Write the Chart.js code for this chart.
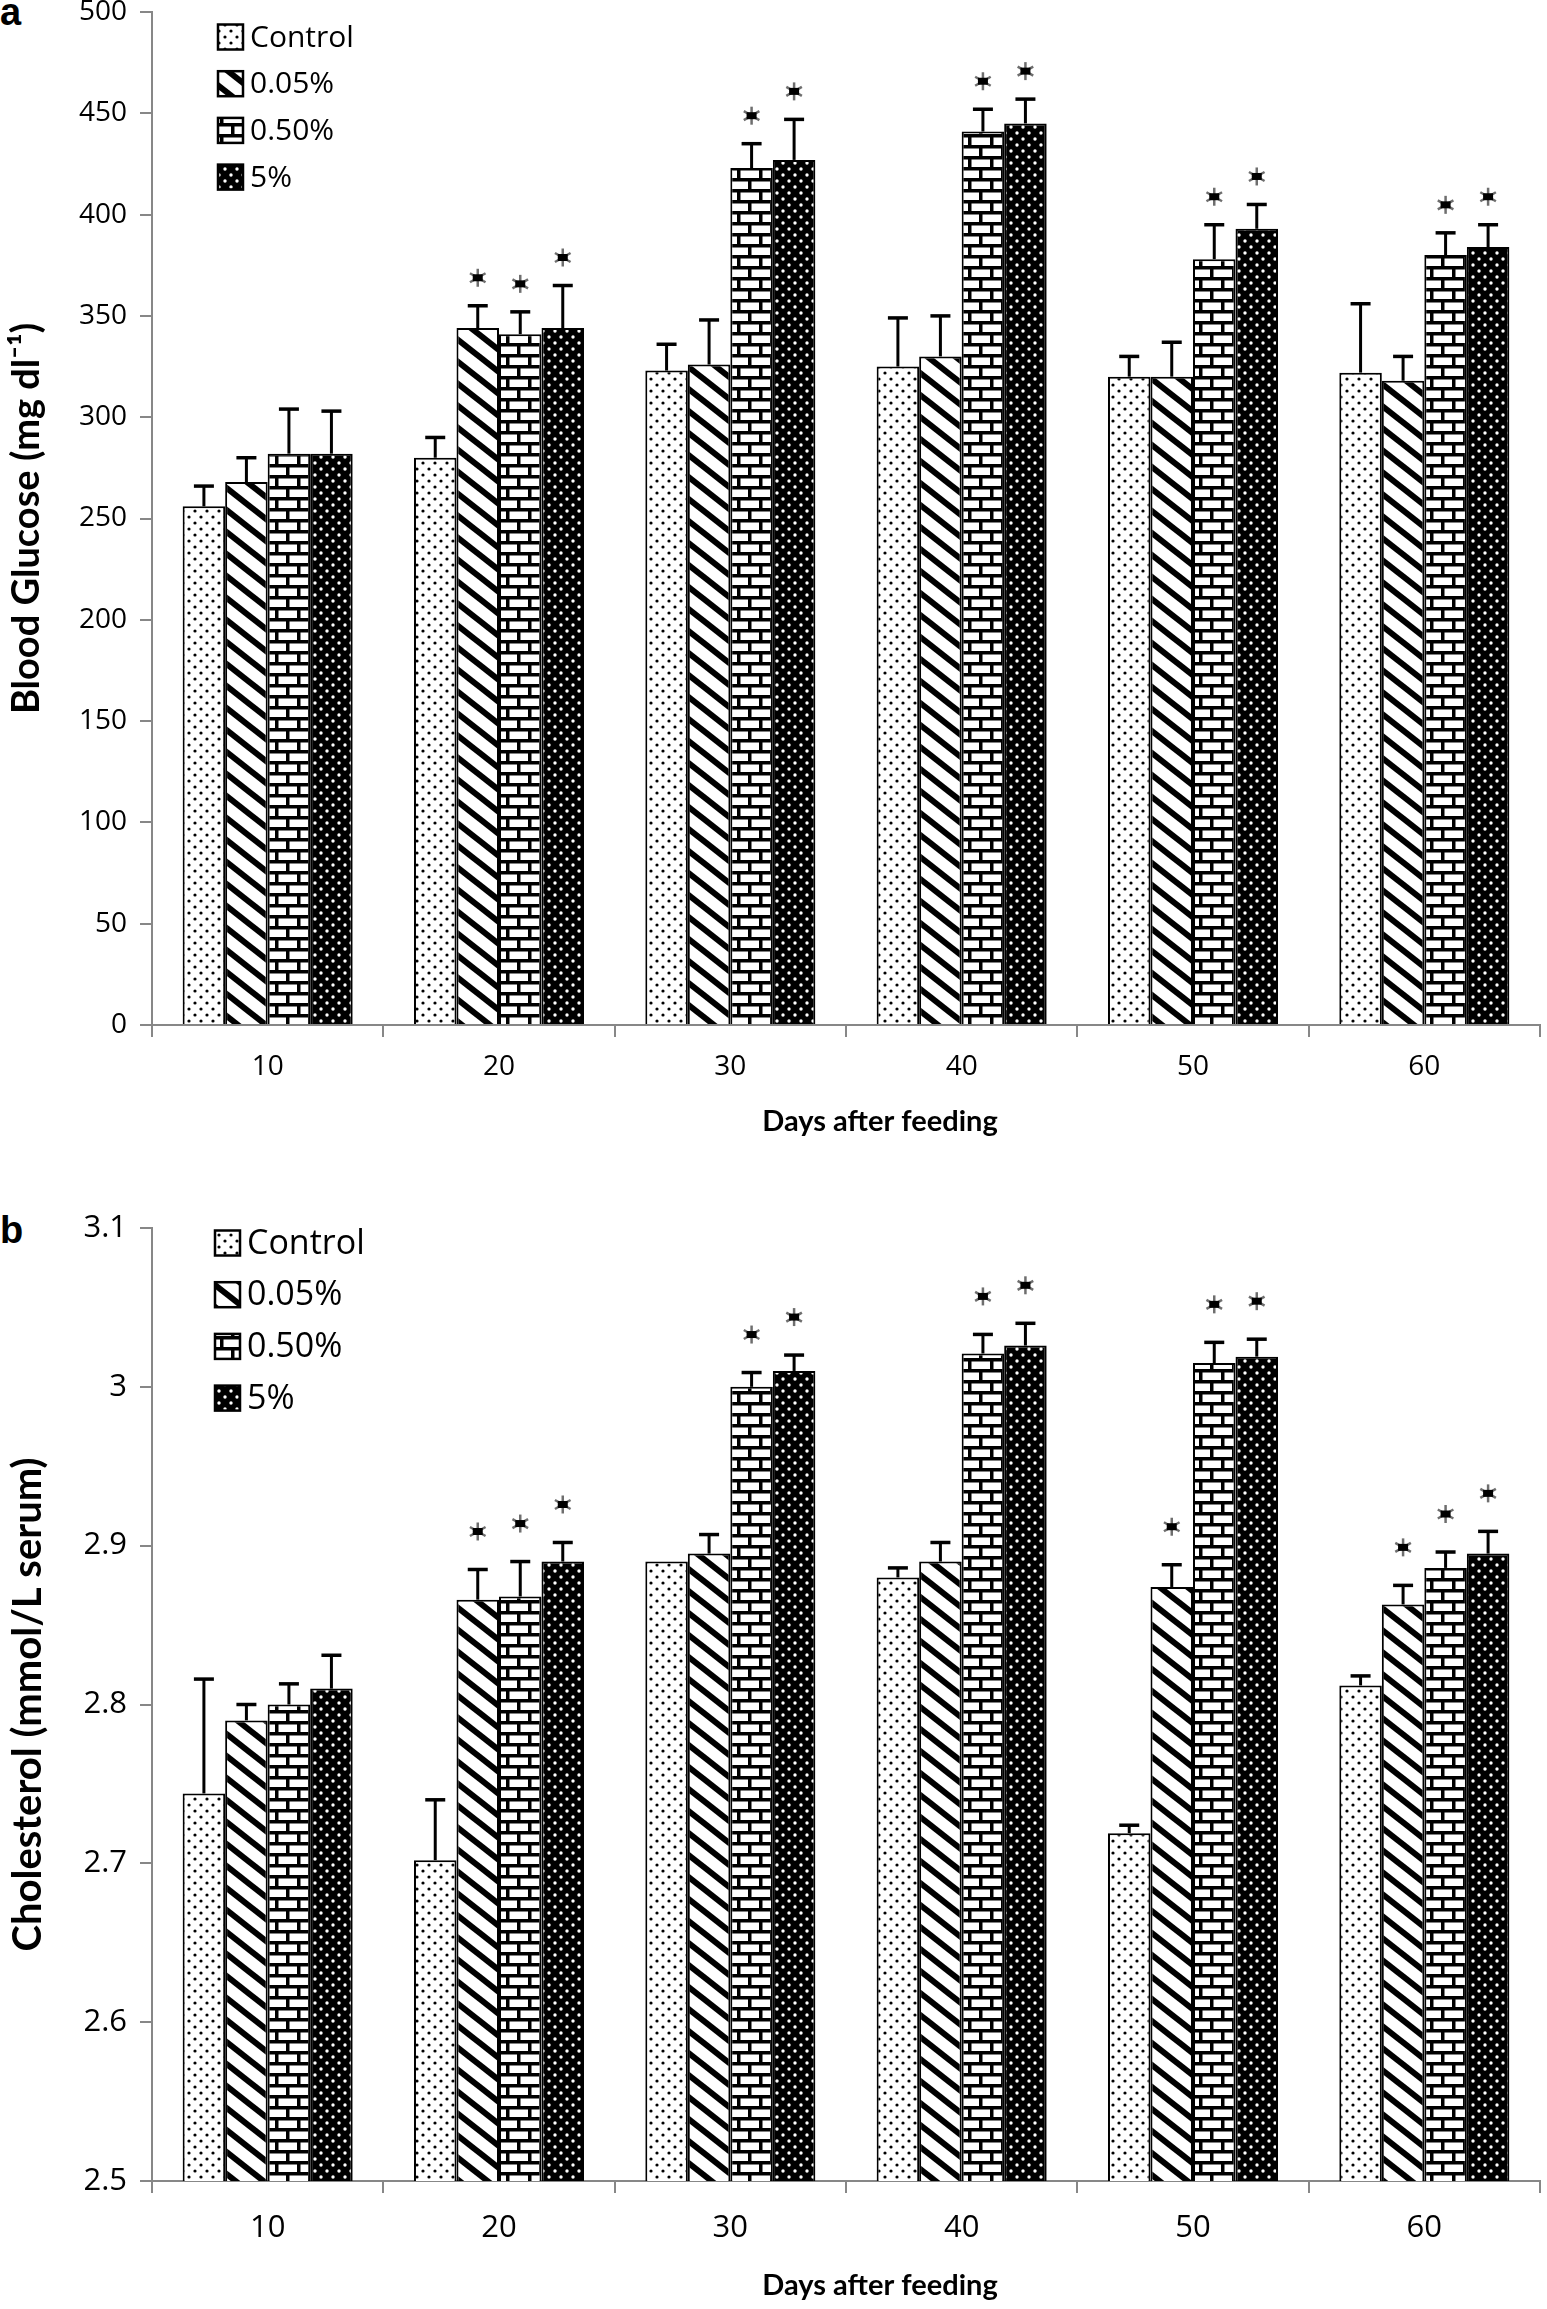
<!DOCTYPE html>
<html>
<head>
<meta charset="utf-8">
<script src="https://cdn.jsdelivr.net/npm/chart.js@4"></script>
<style>
  body { margin: 0; background: #fff; width: 1547px; height: 2309px; overflow: hidden; position: relative; }
  canvas { position: absolute; left: 0; }
  .panel { position: absolute; left: 0; font: bold 38px "Liberation Sans", Arial, sans-serif; line-height: 1; color: #000; }
</style>
</head>
<body>
<div class="panel" style="top:-7px">a</div>
<div class="panel" style="top:1211px">b</div>
<canvas id="glucoseChart" width="1547" height="1170" style="top:-20px"></canvas>
<canvas id="cholesterolChart" width="1547" height="1149" style="top:1160px"></canvas>
<script>
// categorias e séries
const days = ['10', '20', '30', '40', '50', '60'];
const seriesNames = ['Control', '0.05%', '0.50%', '5%'];
const xTitle = 'Days after feeding';

// glicose (mg dl-1)
const glucoseControl = [256, 280, 323, 325, 320, 322];
const glucose005 = [268, 344, 326, 330, 320, 318];
const glucose050 = [282, 341, 423, 441, 378, 380];
const glucose5 = [282, 344, 427, 445, 393, 384];
const glucoseErrControl = [10, 10, 13, 24, 10, 34];
const glucoseErr005 = [12, 11, 22, 20, 17, 12];
const glucoseErr050 = [22, 11, 12, 11, 17, 11];
const glucoseErr5 = [21, 21, 20, 12, 12, 11];
const glucoseSigControl = [0, 0, 0, 0, 0, 0];
const glucoseSig005 = [0, 1, 0, 0, 0, 0];
const glucoseSig050 = [0, 1, 1, 1, 1, 1];
const glucoseSig5 = [0, 1, 1, 1, 1, 1];
const glucoseTicks = { min: 0, max: 500, step: 50 };

// colesterol (mmol/L serum)
const cholControl = [2.744, 2.702, 2.890, 2.880, 2.719, 2.812];
const chol005 = [2.790, 2.866, 2.895, 2.890, 2.874, 2.863];
const chol050 = [2.800, 2.868, 3.000, 3.021, 3.015, 2.886];
const chol5 = [2.810, 2.890, 3.010, 3.026, 3.019, 2.895];
const cholErrControl = [0.072, 0.038, 0, 0.006, 0.005, 0.006];
const cholErr005 = [0.010, 0.019, 0.012, 0.012, 0.014, 0.012];
const cholErr050 = [0.013, 0.022, 0.009, 0.012, 0.013, 0.010];
const cholErr5 = [0.021, 0.012, 0.010, 0.014, 0.011, 0.014];
const cholSigControl = [0, 0, 0, 0, 0, 0];
const cholSig005 = [0, 1, 0, 0, 1, 1];
const cholSig050 = [0, 1, 1, 1, 1, 1];
const cholSig5 = [0, 1, 1, 1, 1, 1];
const cholTicks = { min: 2.5, max: 3.1, step: 0.1 };

// padrões de preenchimento (estilo Excel preto e branco)
function makeTile(w, h, draw) {
  const c = document.createElement('canvas');
  c.width = w; c.height = h;
  const g = c.getContext('2d');
  draw(g);
  return g.createPattern(c, 'repeat');
}

function dotPattern(bg, fg, r) {
  return makeTile(12, 12, (g) => {
    g.fillStyle = bg; g.fillRect(0, 0, 12, 12);
    g.fillStyle = fg;
    [[3, 3], [9, 9]].forEach(([x, y]) => {
      g.beginPath(); g.arc(x, y, r, 0, Math.PI * 2); g.fill();
    });
  });
}

function stripePattern() {
  return makeTile(28, 22, (g) => {
    g.fillStyle = '#fff'; g.fillRect(0, 0, 28, 22);
    g.strokeStyle = '#000'; g.lineWidth = 6;
    for (const dy of [-22, 0, 22]) {
      g.beginPath(); g.moveTo(-28, dy - 22); g.lineTo(56, dy + 44); g.stroke();
    }
  });
}

function brickPattern() {
  return makeTile(22, 22, (g) => {
    g.fillStyle = '#000'; g.fillRect(0, 0, 22, 22);
    g.fillStyle = '#fff';
    g.fillRect(3.5, 3.5, 18.5, 7.5);
    g.fillRect(0, 14.5, 11, 7.5);
    g.fillRect(14.5, 14.5, 7.5, 7.5);
  });
}

const fills = [
  dotPattern('#fff', '#000', 1.6),
  stripePattern(),
  brickPattern(),
  dotPattern('#000', '#fff', 1.7),
];

// barras de erro, asteriscos, legenda e título do eixo x
function drawStar(ctx, x, y) {
  ctx.save();
  ctx.strokeStyle = '#6e6e6e';
  ctx.lineWidth = 2.5;
  [90, 30, 150].forEach((a) => {
    const r = (a * Math.PI) / 180;
    ctx.beginPath();
    ctx.moveTo(x - Math.cos(r) * 9, y - Math.sin(r) * 9);
    ctx.lineTo(x + Math.cos(r) * 9, y + Math.sin(r) * 9);
    ctx.stroke();
  });
  ctx.fillStyle = '#000';
  ctx.fillRect(x - 5, y - 3.5, 10, 7);
  ctx.restore();
}

const extrasPlugin = {
  id: 'extras',
  afterDatasetsDraw(chart, args, opts) {
    const ctx = chart.ctx;
    const yScale = chart.scales.y;
    chart.data.datasets.forEach((ds, i) => {
      chart.getDatasetMeta(i).data.forEach((bar, j) => {
        const top = yScale.getPixelForValue(ds.data[j] + ds.errors[j]);
        ctx.save();
        ctx.strokeStyle = '#000';
        ctx.lineWidth = 3;
        if (ds.errors[j] > 0) {
          ctx.beginPath();
          ctx.moveTo(bar.x, bar.y);
          ctx.lineTo(bar.x, top);
          ctx.stroke();
          ctx.lineWidth = 3.5;
          ctx.beginPath();
          ctx.moveTo(bar.x - 10, top);
          ctx.lineTo(bar.x + 10, top);
          ctx.stroke();
        }
        ctx.restore();
        if (ds.sig[j]) drawStar(ctx, bar.x, top - opts.starGap);
      });
    });
  },
  afterDraw(chart, args, opts) {
    const ctx = chart.ctx;
    const area = chart.chartArea;
    ctx.save();
    ctx.font = opts.font;
    ctx.textBaseline = 'middle';
    chart.data.datasets.forEach((ds, i) => {
      const cy = area.top + opts.top + i * opts.gap;
      const x = area.left + opts.left;
      const s = opts.box;
      ctx.fillStyle = ds.backgroundColor;
      ctx.fillRect(x, cy - s / 2, s, s);
      ctx.strokeStyle = '#000';
      ctx.lineWidth = 2.5;
      ctx.strokeRect(x, cy - s / 2, s, s);
      ctx.fillStyle = '#000';
      ctx.fillText(ds.label, x + s + 7, cy + 1);
    });
    // título do eixo x, um pouco à direita do centro como no original
    ctx.font = 'bold 29px Lato';
    ctx.textAlign = 'center';
    ctx.fillText(xTitle, (area.left + area.right) / 2 + 34, chart.height - opts.titleBottom);
    ctx.restore();
  },
};

function buildDatasets(values, errors, sigs) {
  return seriesNames.map((name, i) => ({
    label: name,
    data: values[i],
    errors: errors[i],
    sig: sigs[i],
    backgroundColor: fills[i],
    borderColor: '#000',
    borderWidth: 2,
    categoryPercentage: 0.735,
    barPercentage: 1,
  }));
}

function makeChart(id, cfg) {
  const axisGray = '#878787';
  return new Chart(document.getElementById(id), {
    type: 'bar',
    data: { labels: days, datasets: cfg.datasets },
    options: {
      responsive: false,
      animation: false,
      layout: { padding: { top: cfg.padTop, right: 7, left: 0, bottom: 0 } },
      plugins: {
        legend: { display: false },
        tooltip: { enabled: false },
        extras: cfg.extras,
      },
      scales: {
        x: {
          afterFit: (s) => { s.height = cfg.xHeight; },
          grid: { display: true, drawOnChartArea: false, offset: true, tickLength: 12, color: axisGray, lineWidth: 2 },
          border: { color: axisGray, width: 2 },
          ticks: { color: '#000', font: { family: 'Open Sans', size: cfg.tickSize }, padding: cfg.xTickPad, maxRotation: 0 },
        },
        y: {
          min: cfg.ticks.min,
          max: cfg.ticks.max,
          afterFit: (s) => { s.width = 152; },
          grid: { display: true, drawOnChartArea: false, tickLength: 12, color: axisGray, lineWidth: 2 },
          border: { color: axisGray, width: 2 },
          ticks: {
            stepSize: cfg.ticks.step,
            color: '#000',
            font: { family: 'Open Sans', size: cfg.tickSize },
            padding: 13,
            callback: (v) => String(Math.round(v * 100) / 100),
          },
          title: {
            display: true, text: cfg.yTitle, color: '#000',
            font: { family: 'Lato', size: cfg.yTitleSize, weight: 'bold' },
            padding: { top: cfg.yTitlePad, bottom: 0 },
          },
        },
      },
    },
    plugins: [extrasPlugin],
  });
}

makeChart('glucoseChart', {
  datasets: buildDatasets(
    [glucoseControl, glucose005, glucose050, glucose5],
    [glucoseErrControl, glucoseErr005, glucoseErr050, glucoseErr5],
    [glucoseSigControl, glucoseSig005, glucoseSig050, glucoseSig5]
  ),
  ticks: glucoseTicks,
  padTop: 32,
  xHeight: 125,
  tickSize: 28,
  xTickPad: 13,
  yTitle: 'Blood Glucose (mg dl\u207B\u00B9)',
  yTitleSize: 38,
  yTitlePad: 4,
  extras: { starGap: 28, font: '30px "Open Sans"', top: 25, gap: 46.7, left: 66, box: 25, titleBottom: 28 },
});

makeChart('cholesterolChart', {
  datasets: buildDatasets(
    [cholControl, chol005, chol050, chol5],
    [cholErrControl, cholErr005, cholErr050, cholErr5],
    [cholSigControl, cholSig005, cholSig050, cholSig5]
  ),
  ticks: cholTicks,
  padTop: 68,
  xHeight: 128,
  tickSize: 31,
  xTickPad: 17,
  yTitle: 'Cholesterol (mmol/L serum)',
  yTitleSize: 40,
  yTitlePad: 4,
  extras: { starGap: 38, font: '34px "Open Sans"', top: 15, gap: 51.7, left: 63, box: 25, titleBottom: 23 },
});
</script>
</body>
</html>
